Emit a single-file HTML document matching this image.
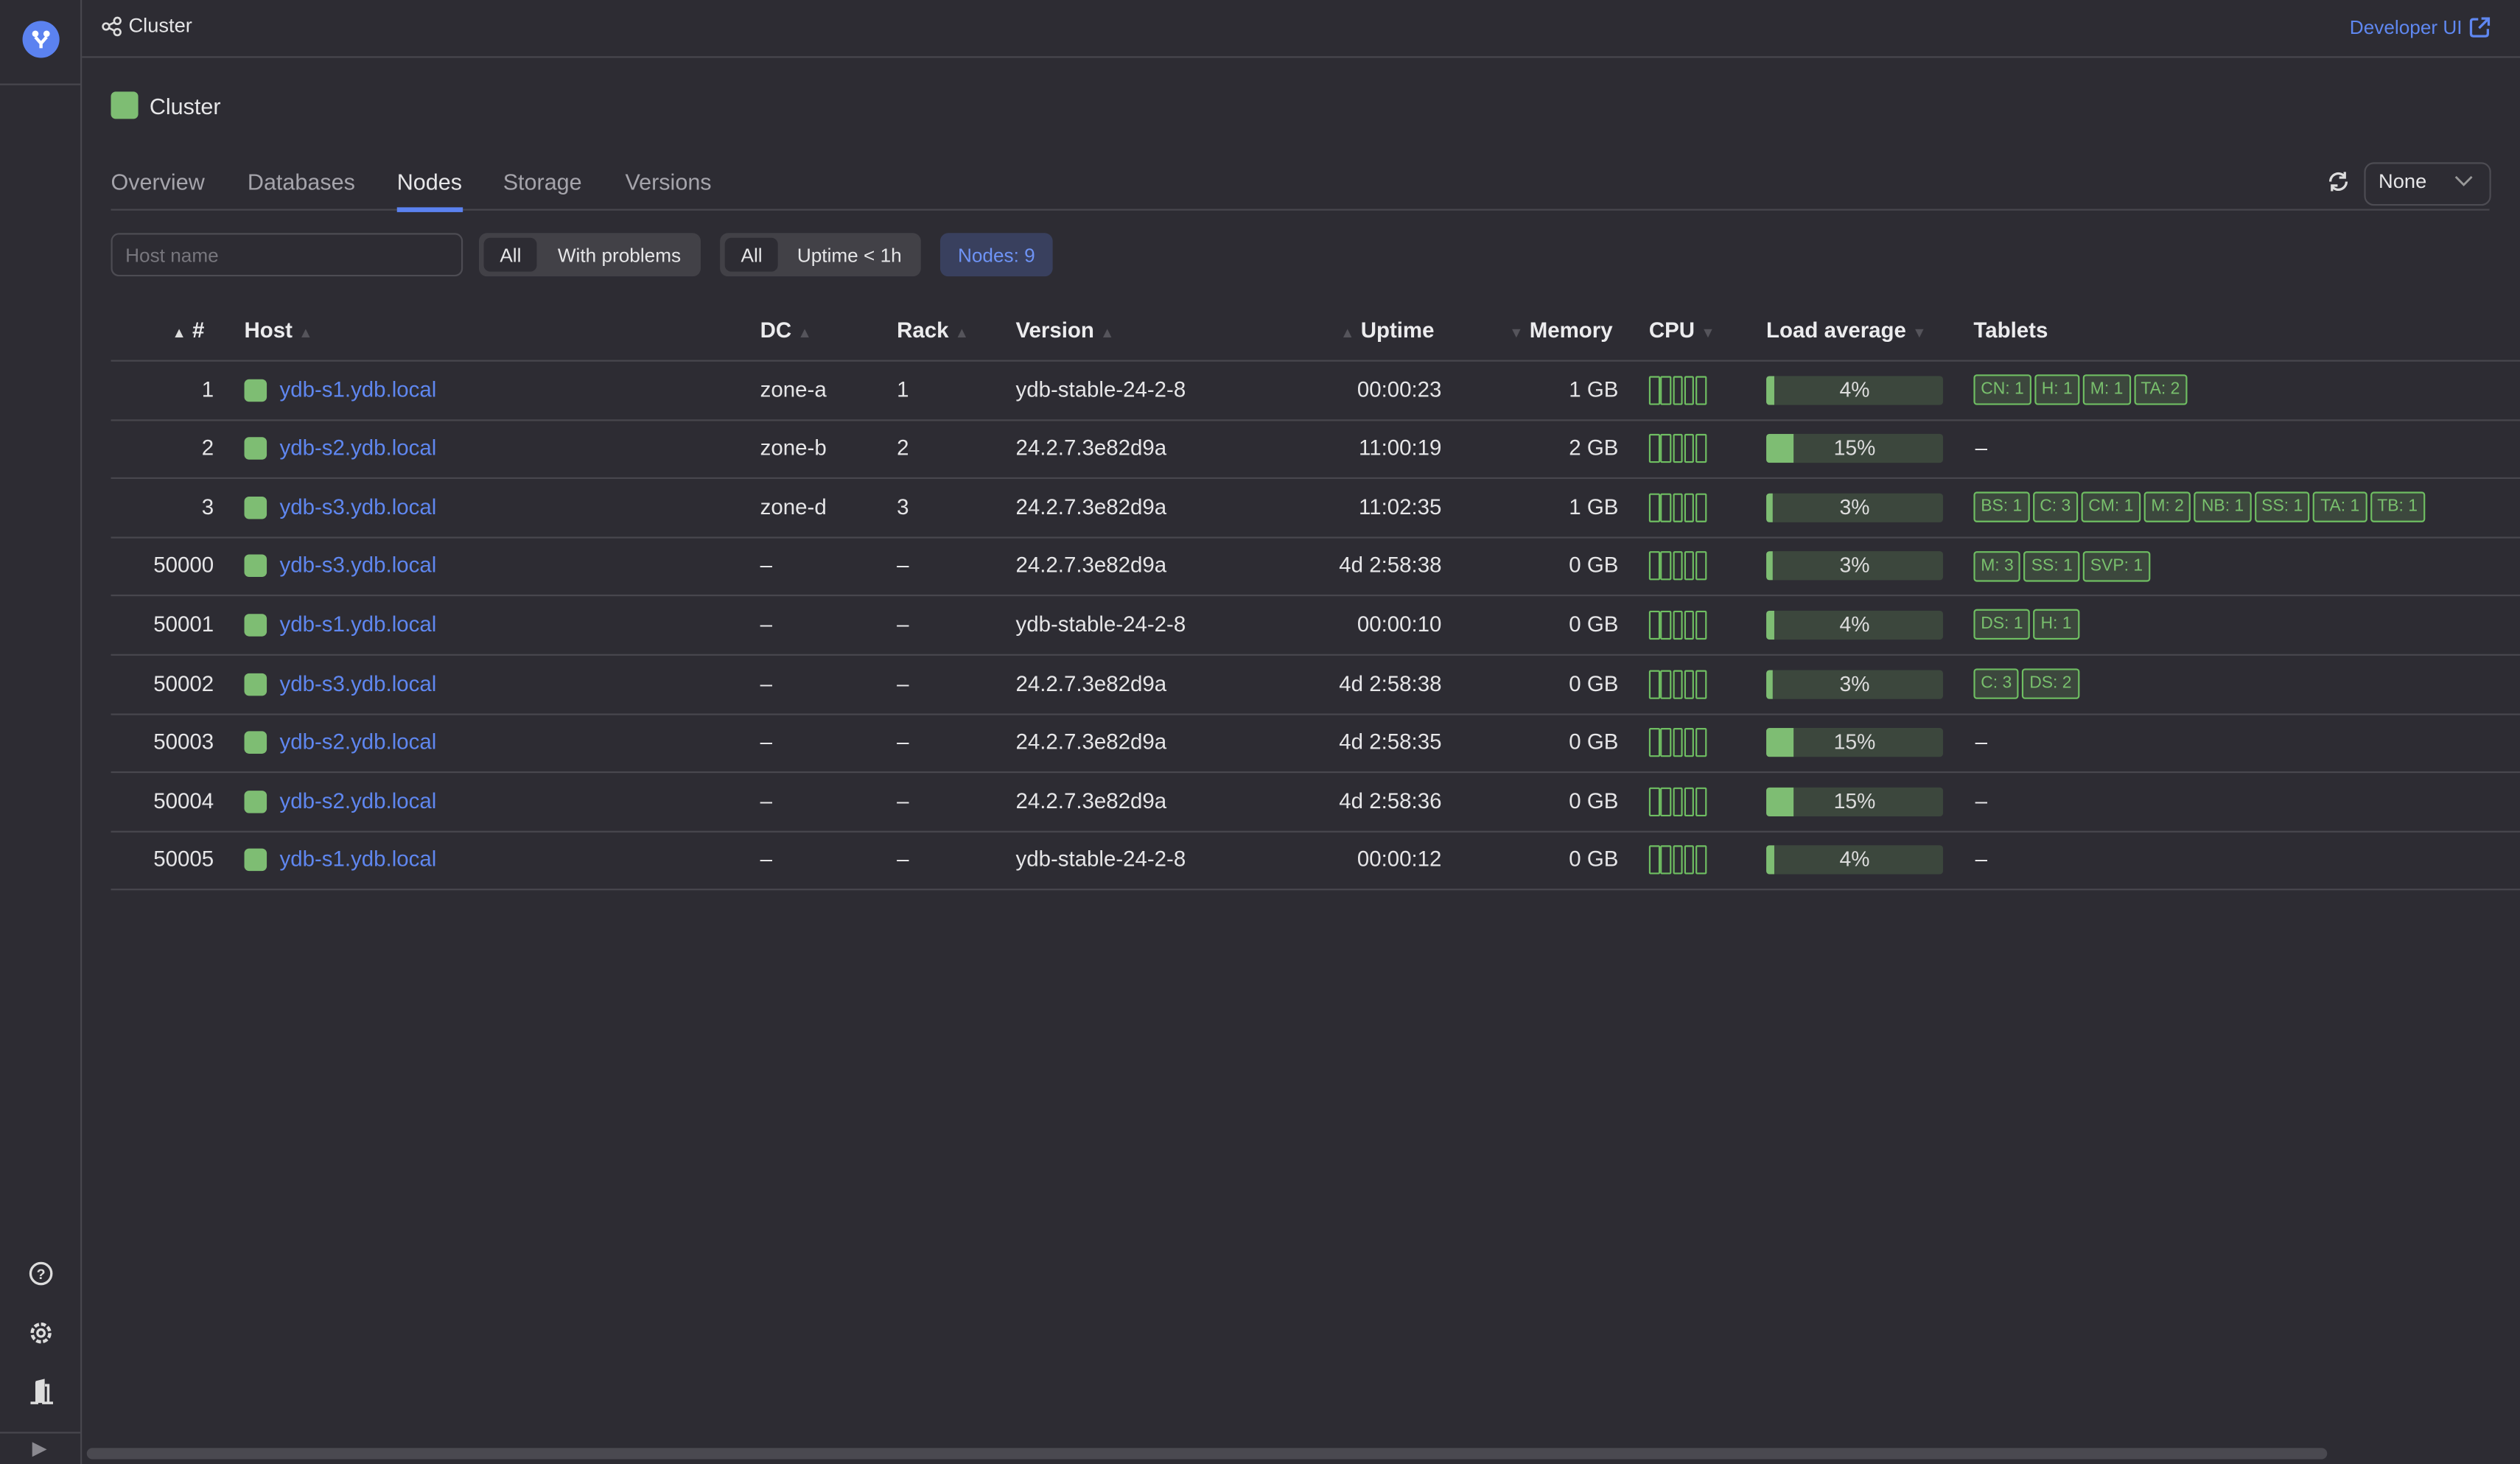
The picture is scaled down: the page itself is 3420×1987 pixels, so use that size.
<!DOCTYPE html>
<html><head><meta charset="utf-8"><style>
html,body{margin:0;padding:0;background:#2d2c33;overflow:hidden}
#wrap{position:absolute;left:0;top:0;width:1568px;height:911px;transform:scale(2.18112,2.18112);transform-origin:0 0;font-family:"Liberation Sans",sans-serif;color:#e6e6e8;font-size:13.5px}
.a{position:absolute;white-space:nowrap}
.hl{position:absolute;height:1px;background:#48474e}
.row{position:absolute;left:69px;width:1499px;height:36px;border-bottom:1.5px solid #48474e}
.row .a{top:0;line-height:35px}
.sq{position:absolute;width:14px;height:14px;border-radius:3px;background:#7ebd73}
.lnk{color:#5f87f0}
.cpu{position:absolute;top:9px;left:957px;height:18px}
.cpu i{display:inline-block;width:4.5px;height:16px;border:1px solid #6fbe62;border-radius:1px;margin-right:0.8px;vertical-align:top}
.load{position:absolute;top:9px;left:1030px;width:110px;height:18px;background:#3c473d;border-radius:2px;overflow:hidden}
.load b{position:absolute;left:0;top:0;height:18px;background:#7ebd73}
.load span{position:absolute;left:0;right:0;text-align:center;line-height:18px;font-size:13px;color:#dcdcdc}
.tabs{position:absolute;top:8.5px;left:1159px;height:18px;font-size:10.5px}
.tabs s{text-decoration:none;display:inline-block;height:17px;line-height:17px;padding:0 3.5px;border:1px solid #6fbe62;border-radius:2px;background:#3c473d;color:#79c06d;margin-right:2px;vertical-align:top}
.th{position:absolute;top:197px;line-height:18px;font-weight:bold;color:#ececee;font-size:13.5px}
.tri{color:#55545b;font-size:9px;font-weight:normal}
.r{text-align:right}
</style></head><body><div id="wrap">
<!-- sidebar -->
<div class="a" style="left:50px;top:0;width:1px;height:911px;background:#48474e"></div>
<div class="hl" style="left:0;top:52px;width:50px"></div>
<div class="hl" style="left:0;top:891px;width:50px"></div>
<div class="a" style="left:14px;top:13px;width:23px;height:23px;border-radius:50%;background:#5b82f0"></div>
<svg class="a" style="left:18px;top:16px" width="15" height="17" viewBox="0 0 15 17"><circle cx="4" cy="5" r="2" fill="#fff"/><circle cx="11" cy="5" r="2" fill="#fff"/><path d="M4 7 L7.5 11 L11 7 M7.5 11 V14" stroke="#fff" stroke-width="2" fill="none"/></svg>
<svg class="a" style="left:17px;top:784px" width="17" height="17"><circle cx="8.5" cy="8.5" r="6.5" stroke="#ddd" stroke-width="1.5" fill="none"/><text x="8.5" y="12" font-size="9" fill="#ddd" text-anchor="middle" font-family="Liberation Sans" font-weight="bold">?</text></svg>
<svg class="a" style="left:17px;top:821px" width="17" height="17"><circle cx="8.5" cy="8.5" r="5.5" stroke="#ddd" stroke-width="2" stroke-dasharray="3 1.3" fill="none"/><circle cx="8.5" cy="8.5" r="2.2" stroke="#ddd" stroke-width="1.5" fill="none"/></svg>
<svg class="a" style="left:17px;top:858px" width="17" height="17"><path d="M2 15 H6 V2 L10 1 V15 H16 M11 4 H13 V15" stroke="#ddd" stroke-width="1.6" fill="none"/><rect x="5" y="2" width="5" height="13" fill="#ddd"/></svg>
<div class="a" style="left:20px;top:894px;font-size:12px;color:#8a8990">▶</div>
<!-- header -->
<div class="hl" style="left:51px;top:35px;width:1517px"></div>
<svg class="a" style="left:63px;top:10px" width="13" height="13"><circle cx="3" cy="6.5" r="2" stroke="#ddd" fill="none" stroke-width="1.2"/><circle cx="10" cy="3" r="2" stroke="#ddd" fill="none" stroke-width="1.2"/><circle cx="10" cy="10" r="2" stroke="#ddd" fill="none" stroke-width="1.2"/><path d="M5 5.5 L8 4 M5 7.5 L8 9" stroke="#ddd" stroke-width="1.2"/></svg>
<div class="a" style="left:80px;top:9px;font-size:12.5px">Cluster</div>
<div class="a" style="left:1462px;top:10px;font-size:12px;color:#5f87f0">Developer UI</div>
<svg class="a" style="left:1536px;top:10px" width="14" height="14"><path d="M6 2 H3 Q1.5 2 1.5 3.5 V11 Q1.5 12.5 3 12.5 H10.5 Q12 12.5 12 11 V8 M8 1.5 H12.5 V6 M12.5 1.5 L6.5 7.5" stroke="#5f87f0" stroke-width="1.5" fill="none"/></svg>
<!-- title -->
<div class="sq" style="left:69px;top:57px;width:17px;height:17px"></div>
<div class="a" style="left:93px;top:58px;font-size:14px">Cluster</div>
<!-- tabs -->
<div class="a" style="left:69px;top:105px;font-size:14px;color:#a5a4ab">Overview</div>
<div class="a" style="left:154px;top:105px;font-size:14px;color:#a5a4ab">Databases</div>
<div class="a" style="left:247px;top:105px;font-size:14px;color:#e6e6e8">Nodes</div>
<div class="a" style="left:313px;top:105px;font-size:14px;color:#a5a4ab">Storage</div>
<div class="a" style="left:389px;top:105px;font-size:14px;color:#a5a4ab">Versions</div>
<div class="hl" style="left:69px;top:130px;width:1480px"></div>
<div class="a" style="left:247px;top:129px;width:41px;height:3px;background:#5b82f0"></div>
<svg class="a" style="left:1447px;top:105px" width="16" height="16"><path d="M3 8 A5 5 0 0 1 12 5 M13 8 A5 5 0 0 1 4 11" stroke="#ddd" stroke-width="1.5" fill="none"/><path d="M12 2 V5.5 H8.5 M4 14 V10.5 H7.5" stroke="#ddd" stroke-width="1.5" fill="none"/></svg>
<div class="a" style="left:1471px;top:101px;width:77px;height:25px;border:1px solid #4d4c53;border-radius:6px"></div>
<div class="a" style="left:1480px;top:106px;font-size:12.5px">None</div>
<svg class="a" style="left:1527px;top:109px" width="12" height="8"><path d="M1 1 L6 6 L11 1" stroke="#999" stroke-width="1.3" fill="none"/></svg>
<!-- filters -->
<div class="a" style="left:69px;top:145px;width:217px;height:25px;border:1px solid #4d4c53;border-radius:5px"></div>
<div class="a" style="left:78px;top:152px;font-size:12px;color:#77767d">Host name</div>
<div class="a" style="left:298px;top:145px;width:138px;height:27px;background:#424147;border-radius:5px"></div>
<div class="a" style="left:301px;top:148px;width:33px;height:21px;background:#2d2c33;border-radius:4px"></div>
<div class="a" style="left:311px;top:152px;font-size:12px">All</div>
<div class="a" style="left:347px;top:152px;font-size:12px">With problems</div>
<div class="a" style="left:448px;top:145px;width:125px;height:27px;background:#424147;border-radius:5px"></div>
<div class="a" style="left:451px;top:148px;width:33px;height:21px;background:#2d2c33;border-radius:4px"></div>
<div class="a" style="left:461px;top:152px;font-size:12px">All</div>
<div class="a" style="left:496px;top:152px;font-size:12px">Uptime &lt; 1h</div>
<div class="a" style="left:585px;top:145px;width:70px;height:27px;background:#39405e;border-radius:5px"></div>
<div class="a" style="left:596px;top:152px;font-size:12px;color:#6e93f5">Nodes: 9</div>
<!-- table header -->
<div class="th" style="left:107px"><span class="tri" style="color:#ddd">▲</span> #</div>
<div class="th" style="left:152px">Host <span class="tri">▲</span></div>
<div class="th" style="left:473px">DC <span class="tri">▲</span></div>
<div class="th" style="left:558px">Rack <span class="tri">▲</span></div>
<div class="th" style="left:632px">Version <span class="tri">▲</span></div>
<div class="th" style="left:834px"><span class="tri">▲</span> Uptime</div>
<div class="th" style="left:939px"><span class="tri">▼</span> Memory</div>
<div class="th" style="left:1026px">CPU <span class="tri">▼</span></div>
<div class="th" style="left:1099px">Load average <span class="tri">▼</span></div>
<div class="th" style="left:1228px">Tablets</div>
<div class="hl" style="left:69px;top:223.5px;width:1499px;height:1.5px"></div>

<div class="row" style="top:224.5px"><div class="a r" style="left:0;width:64px">1</div><div class="sq" style="left:83px;top:11px"></div><div class="a lnk" style="left:105px">ydb-s1.ydb.local</div><div class="a" style="left:404px">zone-a</div><div class="a" style="left:489px">1</div><div class="a" style="left:563px">ydb-stable-24-2-8</div><div class="a r" style="left:720px;width:108px">00:00:23</div><div class="a r" style="left:840px;width:98px">1 GB</div><div class="cpu"><i></i><i></i><i></i><i></i><i></i></div><div class="load"><b style="width:5px"></b><span>4%</span></div><div class="tabs"><s>CN: 1</s><s>H: 1</s><s>M: 1</s><s>TA: 2</s></div></div>
<div class="row" style="top:261.1px"><div class="a r" style="left:0;width:64px">2</div><div class="sq" style="left:83px;top:11px"></div><div class="a lnk" style="left:105px">ydb-s2.ydb.local</div><div class="a" style="left:404px">zone-b</div><div class="a" style="left:489px">2</div><div class="a" style="left:563px">24.2.7.3e82d9a</div><div class="a r" style="left:720px;width:108px">11:00:19</div><div class="a r" style="left:840px;width:98px">2 GB</div><div class="cpu"><i></i><i></i><i></i><i></i><i></i></div><div class="load"><b style="width:17px"></b><span>15%</span></div><div class="a" style="left:1160px">–</div></div>
<div class="row" style="top:297.7px"><div class="a r" style="left:0;width:64px">3</div><div class="sq" style="left:83px;top:11px"></div><div class="a lnk" style="left:105px">ydb-s3.ydb.local</div><div class="a" style="left:404px">zone-d</div><div class="a" style="left:489px">3</div><div class="a" style="left:563px">24.2.7.3e82d9a</div><div class="a r" style="left:720px;width:108px">11:02:35</div><div class="a r" style="left:840px;width:98px">1 GB</div><div class="cpu"><i></i><i></i><i></i><i></i><i></i></div><div class="load"><b style="width:4px"></b><span>3%</span></div><div class="tabs"><s>BS: 1</s><s>C: 3</s><s>CM: 1</s><s>M: 2</s><s>NB: 1</s><s>SS: 1</s><s>TA: 1</s><s>TB: 1</s></div></div>
<div class="row" style="top:334.3px"><div class="a r" style="left:0;width:64px">50000</div><div class="sq" style="left:83px;top:11px"></div><div class="a lnk" style="left:105px">ydb-s3.ydb.local</div><div class="a" style="left:404px">–</div><div class="a" style="left:489px">–</div><div class="a" style="left:563px">24.2.7.3e82d9a</div><div class="a r" style="left:720px;width:108px">4d 2:58:38</div><div class="a r" style="left:840px;width:98px">0 GB</div><div class="cpu"><i></i><i></i><i></i><i></i><i></i></div><div class="load"><b style="width:4px"></b><span>3%</span></div><div class="tabs"><s>M: 3</s><s>SS: 1</s><s>SVP: 1</s></div></div>
<div class="row" style="top:370.9px"><div class="a r" style="left:0;width:64px">50001</div><div class="sq" style="left:83px;top:11px"></div><div class="a lnk" style="left:105px">ydb-s1.ydb.local</div><div class="a" style="left:404px">–</div><div class="a" style="left:489px">–</div><div class="a" style="left:563px">ydb-stable-24-2-8</div><div class="a r" style="left:720px;width:108px">00:00:10</div><div class="a r" style="left:840px;width:98px">0 GB</div><div class="cpu"><i></i><i></i><i></i><i></i><i></i></div><div class="load"><b style="width:5px"></b><span>4%</span></div><div class="tabs"><s>DS: 1</s><s>H: 1</s></div></div>
<div class="row" style="top:407.5px"><div class="a r" style="left:0;width:64px">50002</div><div class="sq" style="left:83px;top:11px"></div><div class="a lnk" style="left:105px">ydb-s3.ydb.local</div><div class="a" style="left:404px">–</div><div class="a" style="left:489px">–</div><div class="a" style="left:563px">24.2.7.3e82d9a</div><div class="a r" style="left:720px;width:108px">4d 2:58:38</div><div class="a r" style="left:840px;width:98px">0 GB</div><div class="cpu"><i></i><i></i><i></i><i></i><i></i></div><div class="load"><b style="width:4px"></b><span>3%</span></div><div class="tabs"><s>C: 3</s><s>DS: 2</s></div></div>
<div class="row" style="top:444.1px"><div class="a r" style="left:0;width:64px">50003</div><div class="sq" style="left:83px;top:11px"></div><div class="a lnk" style="left:105px">ydb-s2.ydb.local</div><div class="a" style="left:404px">–</div><div class="a" style="left:489px">–</div><div class="a" style="left:563px">24.2.7.3e82d9a</div><div class="a r" style="left:720px;width:108px">4d 2:58:35</div><div class="a r" style="left:840px;width:98px">0 GB</div><div class="cpu"><i></i><i></i><i></i><i></i><i></i></div><div class="load"><b style="width:17px"></b><span>15%</span></div><div class="a" style="left:1160px">–</div></div>
<div class="row" style="top:480.7px"><div class="a r" style="left:0;width:64px">50004</div><div class="sq" style="left:83px;top:11px"></div><div class="a lnk" style="left:105px">ydb-s2.ydb.local</div><div class="a" style="left:404px">–</div><div class="a" style="left:489px">–</div><div class="a" style="left:563px">24.2.7.3e82d9a</div><div class="a r" style="left:720px;width:108px">4d 2:58:36</div><div class="a r" style="left:840px;width:98px">0 GB</div><div class="cpu"><i></i><i></i><i></i><i></i><i></i></div><div class="load"><b style="width:17px"></b><span>15%</span></div><div class="a" style="left:1160px">–</div></div>
<div class="row" style="top:517.3px"><div class="a r" style="left:0;width:64px">50005</div><div class="sq" style="left:83px;top:11px"></div><div class="a lnk" style="left:105px">ydb-s1.ydb.local</div><div class="a" style="left:404px">–</div><div class="a" style="left:489px">–</div><div class="a" style="left:563px">ydb-stable-24-2-8</div><div class="a r" style="left:720px;width:108px">00:00:12</div><div class="a r" style="left:840px;width:98px">0 GB</div><div class="cpu"><i></i><i></i><i></i><i></i><i></i></div><div class="load"><b style="width:5px"></b><span>4%</span></div><div class="a" style="left:1160px">–</div></div>

<!-- scrollbar -->
<div class="a" style="left:54px;top:901px;width:1394px;height:7px;border-radius:4px;background:#4a4950"></div>
</div></body></html>
